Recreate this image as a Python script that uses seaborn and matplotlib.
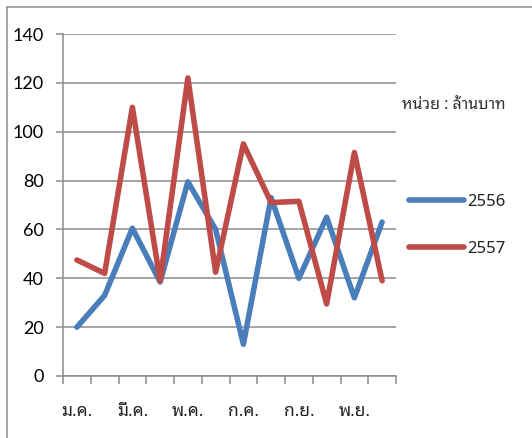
import matplotlib
matplotlib.use("Agg")
import matplotlib.pyplot as plt
import numpy as np
import pandas as pd
import seaborn as sns
from matplotlib.lines import Line2D
from matplotlib.patches import Rectangle

MONTHS = ["ม.ค.", "ก.พ.", "มี.ค.", "เม.ย.", "พ.ค.", "มิ.ย.",
          "ก.ค.", "ส.ค.", "ก.ย.", "ต.ค.", "พ.ย.", "ธ.ค."]
Y2556 = [20, 33, 60.5, 38.5, 79.5, 60, 13, 73, 40, 65, 32, 63]
Y2557 = [47.5, 42, 110, 39, 122, 42.5, 95, 71, 71.5, 29.5, 91.5, 39]
YEARS = ["2556", "2557"]
UNIT_LABEL = "หน่วย : ล้านบาท"

colors = {"2556": "#4a7ebb", "2557": "#be4b48"}
grey = "#8c8c8c"
thai_font = ["Noto Sans Thai Looped", "DejaVu Sans"]
num_font = ["Lato", "DejaVu Sans"]

# --- data ---
df = pd.DataFrame({
    "month": MONTHS * 2,
    "value": Y2556 + Y2557,
    "year": [YEARS[0]] * len(MONTHS) + [YEARS[1]] * len(MONTHS),
})

# --- plot ---
sns.set_style("white")
fig = plt.figure(figsize=(5.32, 4.38), dpi=100)
ax = fig.add_axes([63 / 532, 1 - 376 / 438, 333 / 532, 342 / 438])

sns.lineplot(
    data=df, x="month", y="value", hue="year", palette=colors,
    sort=False, linewidth=4, ax=ax, legend=False,
    solid_capstyle="round", solid_joinstyle="round",
)

ax.set_xlim(-0.5, len(MONTHS) - 0.5)
ax.set_ylim(0, 140)
ax.set_yticks(np.arange(0, 141, 20))
ax.yaxis.grid(True, color=grey, linewidth=1.1)
ax.set_axisbelow(True)
ax.set_xlabel("")
ax.set_ylabel("")

# boundary ticks (major) + every other month label (minor)
ax.set_xticks(np.arange(-0.5, len(MONTHS), 1.0))
ax.set_xticklabels([])
ax.set_xticks(range(0, len(MONTHS), 2), minor=True)
ax.set_xticklabels(MONTHS[::2], minor=True, family=thai_font, fontsize=12.5)
ax.tick_params(axis="x", which="major", direction="out", length=6, width=1.1,
               color=grey, bottom=True)
ax.tick_params(axis="x", which="minor", length=0, pad=19, labelcolor="#222222")
ax.tick_params(axis="y", direction="out", length=5, width=1.1, color=grey,
               left=True, pad=9, labelcolor="black")
for lbl in ax.get_yticklabels():
    lbl.set_family(num_font)
    lbl.set_fontsize(13)

sns.despine(ax=ax)
for s in ["left", "bottom"]:
    ax.spines[s].set_color(grey)
    ax.spines[s].set_linewidth(1.1)

# --- legend ---
handles = [Line2D([], [], color=colors[y], linewidth=4, solid_capstyle="round")
           for y in YEARS]
fig.legend(
    handles, YEARS, loc="center left", bbox_to_anchor=(409 / 532, 1 - 225.5 / 438),
    frameon=False, handlelength=3.3, handletextpad=0.2, labelspacing=1.9,
    borderpad=0, borderaxespad=0, prop={"family": thai_font, "size": 12},
    labelcolor="#222222",
)

# unit label on a white box that hides the gridline end
fig.patches.append(Rectangle((383 / 532, 1 - 118 / 438), 140 / 532, 26 / 438,
                             transform=fig.transFigure, facecolor="white",
                             edgecolor="none", zorder=2))
fig.text(402 / 532, 1 - 105 / 438, UNIT_LABEL, family=thai_font, fontsize=11.5,
         va="center", ha="left", color="#333333", zorder=3)

# outer chart frame (left and top edges)
fig.add_artist(Line2D([7 / 532, 7 / 532], [0, 1 - 7 / 438], color=grey,
                      linewidth=1.1, transform=fig.transFigure))
fig.add_artist(Line2D([7 / 532, 1], [1 - 7 / 438, 1 - 7 / 438], color=grey,
                      linewidth=1.1, transform=fig.transFigure))

fig.savefig("out.png", dpi=100)
